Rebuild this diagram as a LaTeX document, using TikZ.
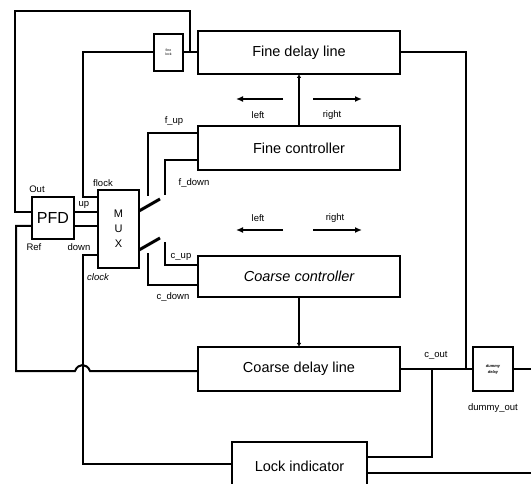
\documentclass[tikz,border=0pt]{standalone}
\usepackage{fontspec}
\setmainfont{Liberation Sans}
\usetikzlibrary{arrows.meta}
\begin{document}
\begin{tikzpicture}[x=1pt,y=-1pt,
  wire/.style={line width=2pt, line join=miter},
  blk/.style={draw, line width=2pt, inner sep=0pt, outer sep=0pt, font=\fontsize{14.5}{16}\selectfont},
  tinyblk/.style={draw, line width=2pt, inner sep=0pt, outer sep=0pt, align=center, font=\fontsize{3.5}{4}\selectfont},
  lbl/.style={font=\fontsize{9.5}{11}\selectfont, inner sep=0pt},
  dirarrow/.style={line width=2pt, -{Latex[length=7pt,width=6pt]}},
  ctlarrow/.style={line width=2pt, -{Latex[length=4pt,width=4.5pt]}},
  switchlever/.style={line width=3pt}]
\clip (0,0) rectangle (531,484);
% blocks
\node[blk, minimum width=202pt, minimum height=43pt] (fdl) at (299,52.5) {Fine delay line};
\node[blk, minimum width=202pt, minimum height=44pt] (fc) at (299,148) {Fine controller};
\node[blk, minimum width=202pt, minimum height=41pt] (cc) at (299,276.5) {\itshape Coarse controller};
\node[blk, minimum width=202pt, minimum height=44pt] (cdl) at (299,369) {Coarse delay line};
\node[blk, minimum width=135pt, minimum height=56pt] (lock) at (299.5,470) {\raisebox{7pt}{Lock indicator}};
\node[tinyblk, minimum width=29pt, minimum height=37pt] (flk) at (168.5,52.5) {fine\\lock};
\node[blk, minimum width=42pt, minimum height=42pt, font=\fontsize{16}{18}\selectfont] (pfd) at (53,218) {PFD};
\node[blk, minimum width=41pt, minimum height=78pt, align=center, font=\fontsize{11}{15}\selectfont] (mux) at (118.5,229) {M\\U\\X};
\node[tinyblk, minimum width=40pt, minimum height=43pt, font=\fontsize{4}{6}\selectfont\bfseries\itshape] (dd) at (493,369) {dummy\\delay};
% junction coordinates
\coordinate (jc) at (432,369);
\coordinate (jn) at (466,369);
\coordinate (lockout) at (531,473);
\coordinate (ddout) at (531,369);
% top feedback loop to PFD Out
\draw[wire] (pfd.west |- 0,212) -- (15,212) -- (15,11) -- (190,11) -- (190,52.5);
\draw[wire] (flk.east) -- (fdl.west);
% fine delay output
\draw[wire] (fdl.east) -| (jn);
% coarse delay output
\draw[wire] (cdl.east) -- (dd.west);
\draw[wire] (dd.east) -- (ddout);
% lock indicator
\draw[wire] (lock.east |- 0,457) -| (jc);
\draw[wire] (lock.east |- 0,473) -- (lockout);
% Ref input
\draw[wire] (pfd.west |- 0,226) -- (16,226) -- (16,371) -- (75,371)
  .. controls (78,363) and (87,363) .. (90,371) -- (cdl.west |- 0,371);
% flock
\draw[wire] (flk.west) -- (83,52.5) -- (83,197) -- (mux.west |- 0,197);
% clock
\draw[wire] (mux.west |- 0,255) -- (83,255) -- (83,464) -- (lock.west |- 0,464);
% up / down
\draw[wire] (pfd.east |- 0,212) -- (mux.west |- 0,212);
\draw[wire] (pfd.east |- 0,226) -- (mux.west |- 0,226);
% controller terminals
\draw[wire] (fc.west |- 0,133) -- (148,133) -- (148,196);
\draw[wire] (fc.west |- 0,160) -- (165,160) -- (165,195);
\draw[wire] (cc.west |- 0,265) -- (165,265) -- (165,242);
\draw[wire] (cc.west |- 0,285) -- (148,285) -- (148,253);
% switches
\draw[switchlever] (mux.east |- 0,211) -- (160,199);
\draw[switchlever] (mux.east |- 0,250) -- (160,238);
% controller to delay lines
\draw[ctlarrow] (fc.north) -- (fdl.south);
\draw[ctlarrow] (cc.south) -- (cdl.north);
% direction arrows
\draw[dirarrow] (283,99) -- (236,99);
\draw[dirarrow] (313,99) -- (362,99);
\draw[dirarrow] (283,230) -- (236,230);
\draw[dirarrow] (313,230) -- (362,230);
% labels
\node[lbl] (lleft1) at (258,115) {left};
\node[lbl] (lright1) at (332,115) {right};
\node[lbl] (lleft2) at (258,218) {left};
\node[lbl] (lright2) at (335,218) {right};
\node[lbl] (lout) at (37,189) {Out};
\node[lbl] (lref) at (34,247) {Ref};
\node[lbl] (lup) at (84,205) {up};
\node[lbl] (ldown) at (79,247) {down};
\node[lbl] (lflock) at (103,183) {flock};
\node[lbl, font=\fontsize{9.5}{11}\selectfont\itshape] (lclock) at (98,277) {clock};
\node[lbl] (lfup) at (174,121) {f\_up};
\node[lbl] (lfdown) at (194,183) {f\_down};
\node[lbl] (lcup) at (181,257) {c\_up};
\node[lbl] (lcdown) at (173,297) {c\_down};
\node[lbl] (lcout) at (436,355) {c\_out};
\node[lbl] (ldout) at (493,408) {dummy\_out};
\end{tikzpicture}
\end{document}
